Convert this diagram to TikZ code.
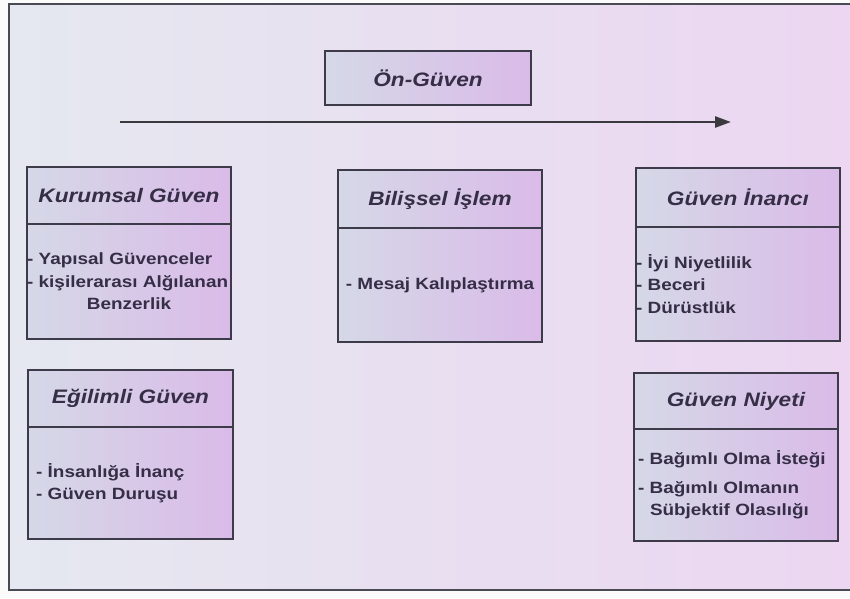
\documentclass[tikz,border=0pt]{standalone}
\usepackage{fontspec}
\usetikzlibrary{arrows.meta}
\newfontfamily\diagfont[FakeStretch=1.16]{Liberation Sans}
\definecolor{txtcol}{HTML}{352E46}
\definecolor{bordercol}{HTML}{3D3A4A}
\definecolor{framecol}{HTML}{4A4A55}
\definecolor{bgl}{HTML}{E5E8F0}
\definecolor{bgr}{HTML}{ECD6F1}
\definecolor{boxl}{HTML}{D5D8E7}
\definecolor{boxr}{HTML}{DABBE8}
\definecolor{arrowcol}{HTML}{3A3A3E}
\tikzset{
  titlebox/.style={draw=bordercol, line width=2pt, left color=boxl, right color=boxr,
    anchor=north west, inner sep=0pt, text=txtcol,
    font=\diagfont\bfseries\itshape\fontsize{19.5}{23}\selectfont},
  bodybox/.style={draw=bordercol, line width=2pt, left color=boxl, right color=boxr,
    anchor=north west, inner ysep=0pt, text=txtcol,
    font=\diagfont\bfseries\fontsize{16.3}{22.5}\selectfont},
  flowarrow/.style={draw=arrowcol, line width=2.5pt, -{Triangle[length=16pt,width=11pt]}}
}
\begin{document}
\begin{tikzpicture}[x=1pt,y=-1pt]
\useasboundingbox (0,0) rectangle (850,598);
\clip (0,0) rectangle (850,598);
\fill[white!97!gray] (0,0) rectangle (850,598);
% outer frame
\draw[framecol, line width=2pt, left color=bgl, right color=bgr] (9,4) rectangle (856,590);

% top box
\node[titlebox, minimum width=206pt, minimum height=54pt] (onguven) at (324,50) {Ön-Güven};

% arrow
\coordinate (as) at (120,122);
\coordinate (ae) at (731,122);
\draw[flowarrow] (as) -- (ae);

% Kurumsal Güven
\node[titlebox, minimum width=204pt, minimum height=57pt] (kh) at (26,166) {Kurumsal Güven};
\node[bodybox, minimum width=204pt, minimum height=115pt, text width=204pt, inner xsep=0pt, align=left] (kb) at (26,223)
  {- Yapısal Güvenceler\\- kişilerarası Alğılanan\\\hspace*{\fill}Benzerlik\hspace*{\fill}};

% Bilissel Islem
\node[titlebox, minimum width=204pt, minimum height=58pt] (bh) at (337,169) {Bilişsel İşlem};
\node[bodybox, minimum width=204pt, minimum height=114pt, text width=204pt, inner xsep=0pt, align=center] (bb) at (337,227)
  {- Mesaj Kalıplaştırma};

% Guven Inanci
\node[titlebox, minimum width=204pt, minimum height=59pt] (gh) at (635,167) {Güven İnancı};
\node[bodybox, minimum width=204pt, minimum height=114pt, text width=204pt, inner xsep=0pt, align=left] (gb) at (635,226)
  {- İyi Niyetlilik\\- Beceri\\- Dürüstlük};

% Egilimli Guven
\node[titlebox, minimum width=205pt, minimum height=57pt] (eh) at (27,369) {Eğilimli Güven};
\node[bodybox, minimum width=205pt, minimum height=112pt, text width=189pt, inner xsep=8pt, align=left] (eb) at (27,426)
  {- İnsanlığa İnanç\\- Güven Duruşu};

% Guven Niyeti
\node[titlebox, minimum width=204pt, minimum height=56pt] (nh) at (633,372) {Güven Niyeti};
\node[bodybox, minimum width=204pt, minimum height=112pt, text width=196pt, inner xsep=4pt, align=left] (nb) at (633,428)
  {- Bağımlı Olma İsteği\\[6pt]- Bağımlı Olmanın\\\hspace*{12pt}Sübjektif Olasılığı};
\end{tikzpicture}
\end{document}
